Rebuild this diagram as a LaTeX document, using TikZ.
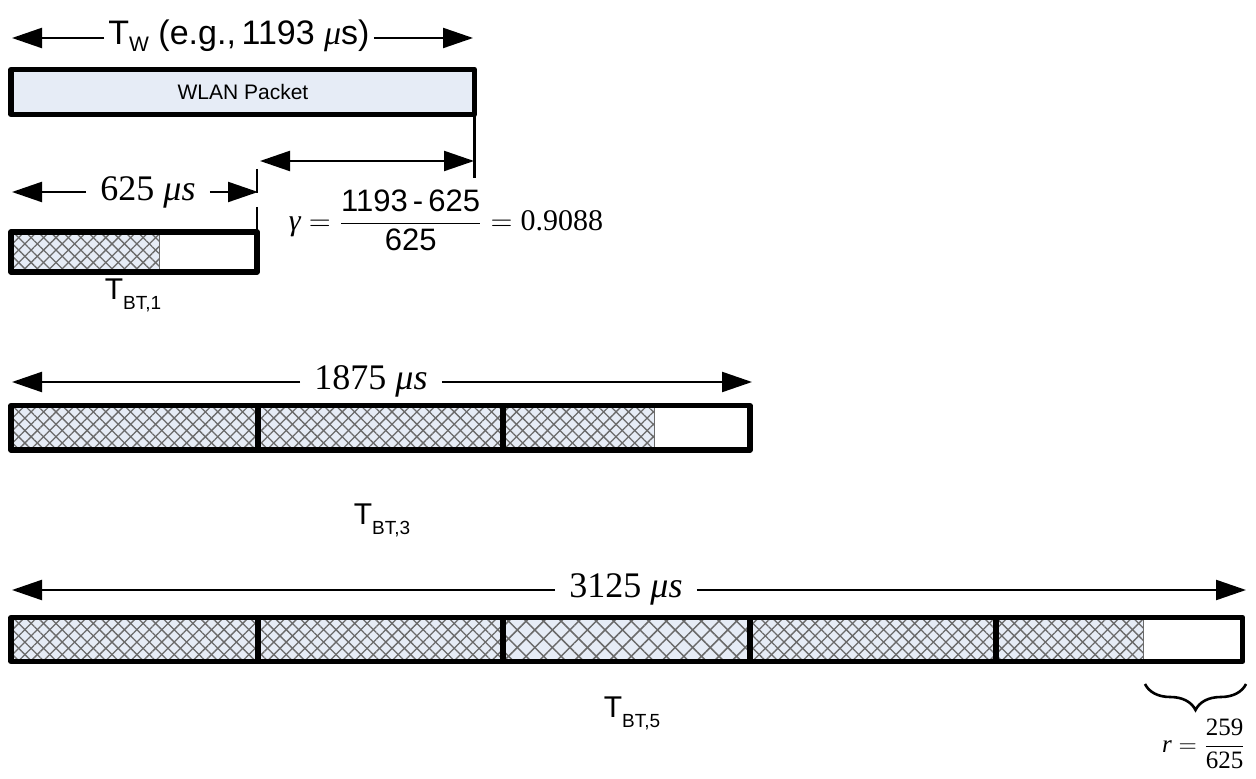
\documentclass[tikz,border=0pt]{standalone}
\usepackage{fontspec}
\setmainfont{Liberation Sans}
\newfontfamily\tnr{Liberation Serif}
\usetikzlibrary{arrows.meta,patterns.meta,decorations.pathreplacing}
\definecolor{boxfill}{HTML}{E6ECF6}
\definecolor{hatchc}{HTML}{6A6A6A}
\newcommand\lowsub[3]{\raisebox{#1}{\fontsize{#2}{#2}\selectfont #3}}
\tikzset{
  dimline/.style={line width=1.1pt, -{Triangle[length=15pt,width=10pt]}},
  dimboth/.style={line width=1.1pt, {Triangle[length=15pt,width=10pt]}-{Triangle[length=15pt,width=10pt]}},
  vline/.style={line width=1.3pt},
  boxline/.style={line width=2.6pt, line join=round},
  divider/.style={line width=2.6pt},
  hatchend/.style={line width=0.5pt, draw=hatchc},
  serifdim/.style={font=\tnr\fontsize{18}{20}\selectfont, inner xsep=7pt, inner ysep=1pt},
  tlabel/.style={font=\fontsize{15}{17}\selectfont, inner sep=0pt},
  hatchA/.style={pattern={Lines[angle=45,distance=4.4pt,line width=0.65pt]}, pattern color=hatchc},
  hatchB/.style={pattern={Lines[angle=-45,distance=4.4pt,line width=0.65pt]}, pattern color=hatchc},
  hatchC/.style={pattern={Lines[angle=45,distance=6.2pt,line width=0.75pt]}, pattern color=hatchc},
  hatchD/.style={pattern={Lines[angle=-45,distance=6.2pt,line width=0.75pt]}, pattern color=hatchc},
}
\begin{document}
\begin{tikzpicture}[x=0.5pt,y=-0.5pt]
\useasboundingbox (0,0) rectangle (1256,779);

% ---------- WLAN packet ----------
\fill[boxfill] (11,69.5) rectangle (474.5,114.5);
\draw[boxline] (11,69.5) rectangle (474.5,114.5);
\node[font=\fontsize{10.5}{12}\selectfont] (wlan) at (243,92) {WLAN Packet};

\node[font=\fontsize{17}{20}\selectfont, inner xsep=2pt, inner ysep=0pt] (tw) at (239,36)
  {T\lowsub{-3.5pt}{10.5}{W} (e.g.,\,1193 {\tnr\itshape μ}s)};
\coordinate (twL) at (12,38);
\coordinate (twR) at (473,38);
\draw[dimline] (tw.west |- twL) -- (twL);
\draw[dimline] (tw.east |- twR) -- (twR);

% vertical marker lines
\coordinate (wEnd) at (474.5,114.5);
\coordinate (wLow) at (474.5,178);
\draw[vline] (wEnd) -- (wLow);
\coordinate (gL) at (260,161);
\coordinate (gR) at (474,161);
\draw[dimboth] (gL) -- (gR);
\coordinate (m1a) at (257,169);
\coordinate (m1b) at (257,193);
\coordinate (m1c) at (257,207);
\coordinate (m1d) at (257,232);
\draw[vline] (m1a) -- (m1b);
\draw[vline] (m1c) -- (m1d);

% gamma formula
\node[font=\fontsize{15}{18}\selectfont, inner sep=0pt] (gamma) at (446,220)
  {$\hbox{\tnr\itshape γ} = {\displaystyle\frac{\hbox{\fontsize{15.5}{18}\selectfont 1193\,-\,625}}{\hbox{\fontsize{15.5}{18}\selectfont 625}}} = \hbox{\tnr 0.9088}$};

% ---------- BT,1 ----------
\node[serifdim] (d625) at (148,192) {625 \textit{μs}};
\coordinate (a1L) at (12,192);
\coordinate (a1R) at (258,192);
\draw[dimline] (d625.west |- a1L) -- (a1L);
\draw[dimline] (d625.east |- a1R) -- (a1R);

\fill[boxfill] (11,232) rectangle (159,272);
\fill[hatchA] (11,232) rectangle (159,272);
\fill[hatchB] (11,232) rectangle (159,272);
\draw[hatchend] (159,232) -- (159,272);
\draw[boxline] (11,232) rectangle (257,272);
\node[tlabel] (t1) at (133,295) {T\lowsub{-5pt}{9.5}{BT,1}};

% ---------- BT,3 ----------
\node[serifdim] (d1875) at (371,381) {1875 \textit{μs}};
\coordinate (a3L) at (12,382);
\coordinate (a3R) at (752,382);
\draw[dimline] (d1875.west |- a3L) -- (a3L);
\draw[dimline] (d1875.east |- a3R) -- (a3R);

\fill[boxfill] (11,405.5) rectangle (654,450);
\fill[hatchA] (11,405.5) rectangle (654,450);
\fill[hatchB] (11,405.5) rectangle (654,450);
\draw[hatchend] (654,405.5) -- (654,450);
\draw[boxline] (11,405.5) rectangle (750,450);
\draw[divider] (258,405.5) -- (258,450);
\draw[divider] (503,405.5) -- (503,450);
\node[tlabel] (t3) at (382,520) {T\lowsub{-5pt}{9.5}{BT,3}};

% ---------- BT,5 ----------
\node[serifdim] (d3125) at (626,589) {3125 \textit{μs}};
\coordinate (a5L) at (12,590);
\coordinate (a5R) at (1246,590);
\draw[dimline] (d3125.west |- a5L) -- (a5L);
\draw[dimline] (d3125.east |- a5R) -- (a5R);

\fill[boxfill] (11,617.5) rectangle (1143,661.5);
\fill[hatchA] (11,617.5) rectangle (503,661.5);
\fill[hatchB] (11,617.5) rectangle (503,661.5);
\fill[hatchC] (503,617.5) rectangle (750,661.5);
\fill[hatchD] (503,617.5) rectangle (750,661.5);
\fill[hatchA] (750,617.5) rectangle (1143,661.5);
\fill[hatchB] (750,617.5) rectangle (1143,661.5);
\draw[hatchend] (1143,617.5) -- (1143,661.5);
\draw[boxline] (11,617.5) rectangle (1242.5,661.5);
\draw[divider] (258,617.5) -- (258,661.5);
\draw[divider] (503,617.5) -- (503,661.5);
\draw[divider] (750,617.5) -- (750,661.5);
\draw[divider] (996,617.5) -- (996,661.5);
\node[tlabel] (t5) at (632,713) {T\lowsub{-5pt}{9.5}{BT,5}};

% brace and r
\coordinate (bL) at (1145,684);
\coordinate (bR) at (1246,684);
\draw[line width=1.3pt, decorate, decoration={brace, mirror, amplitude=13pt}] (bL) -- (bR);
\node[font=\fontsize{12.5}{15}\selectfont, inner sep=0pt] (rlab) at (1204,744)
  {$\hbox{\tnr\itshape r} = {\displaystyle\frac{\hbox{\tnr 259}}{\hbox{\tnr 625}}}$};
\end{tikzpicture}
\end{document}
